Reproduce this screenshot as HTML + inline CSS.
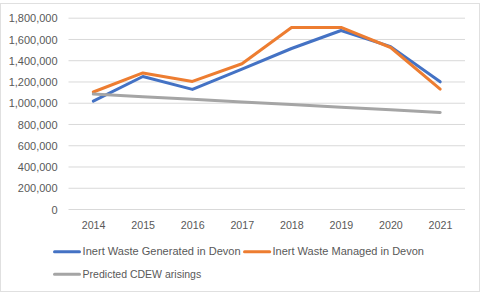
<!DOCTYPE html>
<html><head><meta charset="utf-8"><style>
html,body{margin:0;padding:0;background:#fff;}
svg{display:block;}
text{font-family:"Liberation Sans",sans-serif;font-size:11px;fill:#595959;}
</style></head><body>
<svg width="481" height="295" viewBox="0 0 481 295">
<rect x="0" y="0" width="481" height="295" fill="#fff"/>
<rect x="0.5" y="3.5" width="479" height="288" fill="none" stroke="#e0e0e0" stroke-width="1"/>
<g stroke="#d9d9d9" stroke-width="1"><line x1="68.5" x2="465" y1="18.20" y2="18.20"/><line x1="68.5" x2="465" y1="39.46" y2="39.46"/><line x1="68.5" x2="465" y1="60.71" y2="60.71"/><line x1="68.5" x2="465" y1="81.97" y2="81.97"/><line x1="68.5" x2="465" y1="103.22" y2="103.22"/><line x1="68.5" x2="465" y1="124.48" y2="124.48"/><line x1="68.5" x2="465" y1="145.74" y2="145.74"/><line x1="68.5" x2="465" y1="166.99" y2="166.99"/><line x1="68.5" x2="465" y1="188.25" y2="188.25"/><line x1="68.5" x2="465" y1="209.50" y2="209.50"/></g>
<g><text x="57.6" y="22.30" text-anchor="end" style="font-size:11.5px" transform="translate(57.6 0) scale(0.9565 1) translate(-57.6 0)">1,800,000</text><text x="57.6" y="43.56" text-anchor="end" style="font-size:11.5px" transform="translate(57.6 0) scale(0.9565 1) translate(-57.6 0)">1,600,000</text><text x="57.6" y="64.81" text-anchor="end" style="font-size:11.5px" transform="translate(57.6 0) scale(0.9565 1) translate(-57.6 0)">1,400,000</text><text x="57.6" y="86.07" text-anchor="end" style="font-size:11.5px" transform="translate(57.6 0) scale(0.9565 1) translate(-57.6 0)">1,200,000</text><text x="57.6" y="107.32" text-anchor="end" style="font-size:11.5px" transform="translate(57.6 0) scale(0.9565 1) translate(-57.6 0)">1,000,000</text><text x="57.6" y="128.58" text-anchor="end" style="font-size:11.5px" transform="translate(57.6 0) scale(0.9565 1) translate(-57.6 0)">800,000</text><text x="57.6" y="149.84" text-anchor="end" style="font-size:11.5px" transform="translate(57.6 0) scale(0.9565 1) translate(-57.6 0)">600,000</text><text x="57.6" y="171.09" text-anchor="end" style="font-size:11.5px" transform="translate(57.6 0) scale(0.9565 1) translate(-57.6 0)">400,000</text><text x="57.6" y="192.35" text-anchor="end" style="font-size:11.5px" transform="translate(57.6 0) scale(0.9565 1) translate(-57.6 0)">200,000</text><text x="57.6" y="213.60" text-anchor="end" style="font-size:11.5px" transform="translate(57.6 0) scale(0.9565 1) translate(-57.6 0)">0</text></g>
<g><text x="93.60" y="229.1" text-anchor="middle" style="font-size:11.5px" transform="translate(93.60 0) scale(0.93 1) translate(-93.60 0)">2014</text><text x="143.16" y="229.1" text-anchor="middle" style="font-size:11.5px" transform="translate(143.16 0) scale(0.93 1) translate(-143.16 0)">2015</text><text x="192.71" y="229.1" text-anchor="middle" style="font-size:11.5px" transform="translate(192.71 0) scale(0.93 1) translate(-192.71 0)">2016</text><text x="242.27" y="229.1" text-anchor="middle" style="font-size:11.5px" transform="translate(242.27 0) scale(0.93 1) translate(-242.27 0)">2017</text><text x="291.83" y="229.1" text-anchor="middle" style="font-size:11.5px" transform="translate(291.83 0) scale(0.93 1) translate(-291.83 0)">2018</text><text x="341.39" y="229.1" text-anchor="middle" style="font-size:11.5px" transform="translate(341.39 0) scale(0.93 1) translate(-341.39 0)">2019</text><text x="390.94" y="229.1" text-anchor="middle" style="font-size:11.5px" transform="translate(390.94 0) scale(0.93 1) translate(-390.94 0)">2020</text><text x="440.50" y="229.1" text-anchor="middle" style="font-size:11.5px" transform="translate(440.50 0) scale(0.93 1) translate(-440.50 0)">2021</text></g>
<g fill="none" stroke-width="3" stroke-linecap="round" stroke-linejoin="round">
<polyline stroke="#4472C4" points="93.30,101.10 142.86,76.50 192.41,89.40 241.97,69.20 291.53,48.50 341.09,30.50 390.64,46.60 440.20,81.80"/>
<polyline stroke="#ED7D31" points="93.30,92.00 142.86,72.90 192.41,81.45 241.97,63.75 291.53,27.44 341.09,27.44 390.64,47.50 440.20,89.10"/>
<polyline stroke="#A5A5A5" points="93.30,94.00 142.86,96.64 192.41,99.27 241.97,101.91 291.53,104.54 341.09,107.18 390.64,109.81 440.20,112.45"/>
</g>
<g stroke-width="3" stroke-linecap="round">
<line x1="54.5" x2="79.5" y1="251.8" y2="251.8" stroke="#4472C4"/>
<line x1="244.5" x2="269.7" y1="251.8" y2="251.8" stroke="#ED7D31"/>
<line x1="54.5" x2="79.5" y1="274.3" y2="274.3" stroke="#A5A5A5"/>
</g>
<text x="82.6" y="255.1" style="font-size:11.5px" textLength="158" lengthAdjust="spacingAndGlyphs">Inert Waste Generated in Devon</text>
<text x="272.5" y="255.1" style="font-size:11.5px" textLength="151.5" lengthAdjust="spacingAndGlyphs">Inert Waste Managed in Devon</text>
<text x="82.6" y="277.6" style="font-size:11.5px" textLength="118.6" lengthAdjust="spacingAndGlyphs">Predicted CDEW arisings</text>
</svg>
</body></html>
